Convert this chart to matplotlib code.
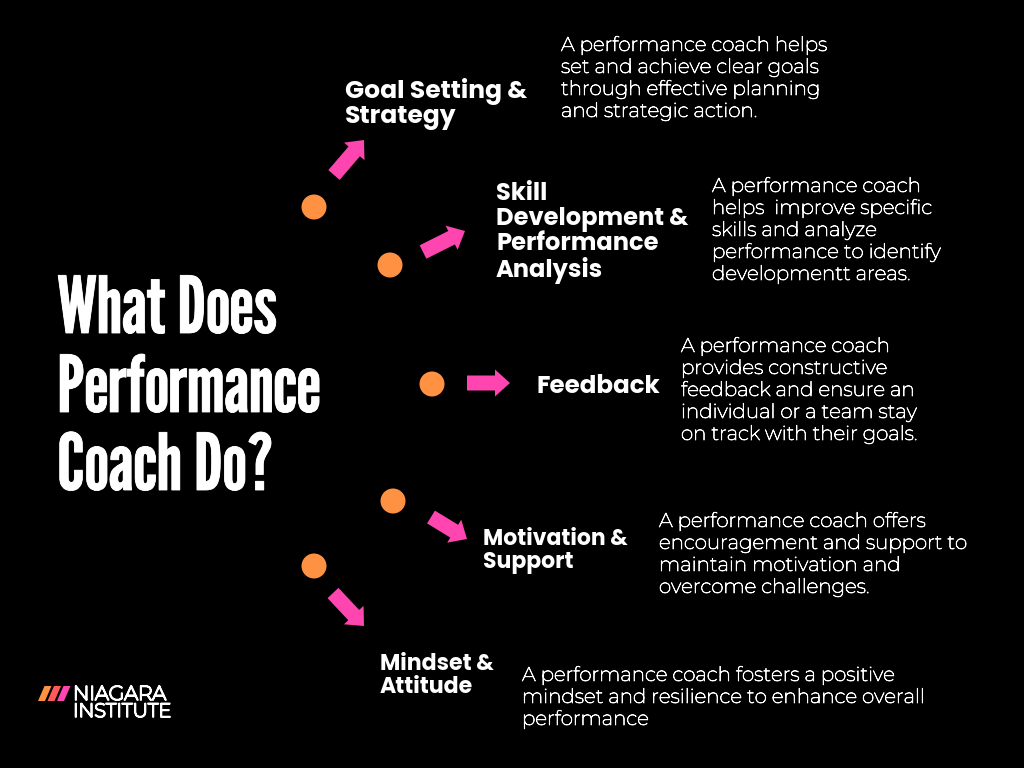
# 导入需要的库
import matplotlib.pyplot as plt
import matplotlib.patches as mpatches
import matplotlib.patheffects as pe
import matplotlib.font_manager as fm

# --- 图中的文字内容 ---
title_lines = ['What Does', 'Performance', 'Coach Do?']
headings = [
    'Goal Setting &\nStrategy',
    'Skill\nDevelopment &\nPerformance\nAnalysis',
    'Feedback',
    'Motivation &\nSupport',
    'Mindset &\nAttitude',
]
descriptions = [
    'A performance coach helps\nset and achieve clear goals\nthrough effective planning\nand strategic action.',
    'A performance coach\nhelps  improve specific\nskills and analyze\nperformance to identify\ndevelopmentt areas.',
    'A performance coach\nprovides constructive\nfeedback and ensure an\nindividual or a team stay\non track with their goals.',
    'A performance coach offers\nencouragement and support to\nmaintain motivation and\novercome challenges.',
    'A performance coach fosters a positive\nmindset and resilience to enhance overall\nperformance',
]
logo_lines = ['NIAGARA', 'INSTITUTE']

# --- 版面位置（像素） ---
dot_x = [314, 390, 432, 393, 314]
dot_y = [207, 265, 384, 501, 566]
arrow_x0 = [334, 423, 467, 431, 333]
arrow_y0 = [175, 252, 383, 517, 593]
arrow_x1 = [364, 465, 510, 467, 364]
arrow_y1 = [140, 231, 383, 539, 626]
heading_x = [345, 496, 537, 483, 380]
heading_y = [78, 182, 375, 528, 653]
heading_size = [18, 17.4, 17.7, 15.8, 15.9]
desc_x = [561, 712, 681, 659, 522]
desc_y = [36, 177, 337, 512, 666]
title_base = [333, 412, 490]
stripe_x = [38, 47.5, 57]
stripe_colors = ['#ff9142', '#ff5a5a', '#ff45b0']

# --- 自动查找可用的字体 ---
def find_font(font_names):
    """
    在一个列表中按顺序查找系统中可用的字体。
    """
    all_font_names = {font.name for font in fm.fontManager.ttflist}
    for font_name in font_names:
        if font_name in all_font_names:
            return font_name
    return 'DejaVu Sans'

title_font = find_font(['League Gothic', 'Oswald', 'Liberation Sans'])
heading_font = find_font(['Poppins', 'Open Sans'])
body_font = find_font(['Montserrat', 'DejaVu Sans'])

# --- 开始绘图 ---
fig, ax = plt.subplots(figsize=(10.24, 7.68), dpi=100)
fig.patch.set_facecolor('black')
ax.set_position([0, 0, 1, 1])
ax.set_xlim(0, 1024)
ax.set_ylim(768, 0)
ax.axis('off')

# 标题
for line, y in zip(title_lines, title_base):
    ax.text(57, y, line, color='white', fontsize=56.5, family=title_font, va='baseline', ha='left',
            path_effects=[pe.withStroke(linewidth=0.6, foreground='white')])

# 圆点
for x, y in zip(dot_x, dot_y):
    ax.add_patch(mpatches.Circle((x, y), 12.5, color='#ff9142', lw=0))

# 箭头
for x0, y0, x1, y1 in zip(arrow_x0, arrow_y0, arrow_x1, arrow_y1):
    ax.add_patch(mpatches.FancyArrow(x0, y0, x1 - x0, y1 - y0, width=15, head_width=27,
                                     head_length=15, length_includes_head=True,
                                     color='#ff45b0', lw=0))

# 小标题和说明文字
for i, text in enumerate(headings):
    ax.text(heading_x[i], heading_y[i], text, color='white', fontsize=heading_size[i], fontweight='bold',
            family=heading_font, va='top', ha='left', linespacing=1.0)
# Montserrat 默认字重太细，用描边加粗
for i, text in enumerate(descriptions):
    ax.text(desc_x[i], desc_y[i], text, color='white', fontsize=14.3,
            family=body_font, va='top', ha='left', linespacing=1.2,
            path_effects=[pe.withStroke(linewidth=0.55, foreground='white')])

# 左下角标志
for x, c in zip(stripe_x, stripe_colors):
    ax.add_patch(mpatches.Polygon([[x, 701], [x + 6.5, 686], [x + 13.5, 686], [x + 7, 701]], color=c, lw=0))
ax.text(73, 700, logo_lines[0], color='white', fontsize=14.4,
        family=body_font, va='baseline', ha='left',
        path_effects=[pe.withStroke(linewidth=1.3, foreground='white')])
ax.text(73, 717, logo_lines[1], color='white', fontsize=13.9,
        family=body_font, va='baseline', ha='left',
        path_effects=[pe.withStroke(linewidth=1.3, foreground='white')])

plt.savefig('out.png', dpi=100, facecolor='black')
